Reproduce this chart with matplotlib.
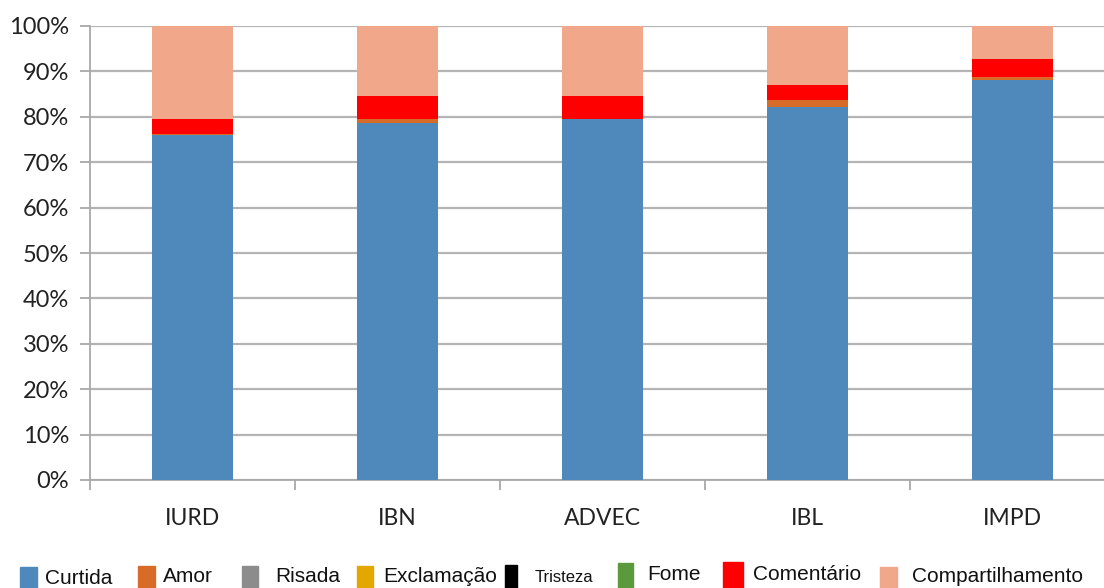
#!/usr/bin/env python3

import matplotlib.pyplot as plt
from matplotlib.patches import Rectangle
from matplotlib.ticker import PercentFormatter
import numpy as np

# Share of each interaction type per church page (percent of total)
churches = ['IURD', 'IBN', 'ADVEC', 'IBL', 'IMPD']
curtida = [76.0, 78.6, 79.5, 82.1, 88.0]
amor = [0.3, 1.0, 0.1, 1.5, 0.7]
risada = [0.0, 0.0, 0.0, 0.0, 0.0]
exclamacao = [0.0, 0.0, 0.0, 0.0, 0.0]
tristeza = [0.0, 0.0, 0.0, 0.0, 0.0]
fome = [0.0, 0.0, 0.0, 0.0, 0.0]
comentario = [3.3, 5.0, 5.0, 3.3, 4.0]
compartilhamento = [20.4, 15.4, 15.4, 13.1, 7.3]

series_names = ['Curtida', 'Amor', 'Risada', 'Exclamação', 'Tristeza',
                'Fome', 'Comentário', 'Compartilhamento']
series_values = [curtida, amor, risada, exclamacao, tristeza, fome,
                 comentario, compartilhamento]
colors = ['#4f89bc', '#d86b28', '#8c8c8c', '#e3a800', '#000000',
          '#5b9a3c', '#ff0000', '#f0a78a']

W, H = 1104, 588
fig = plt.figure(figsize=(W / 100, H / 100), dpi=100)
ax = fig.add_axes([90 / W, (H - 480) / H, 1025 / W, 454 / H])

x = np.arange(len(churches))
bottom = np.zeros(len(churches))
for name, vals, col in zip(series_names, series_values, colors):
    vals = np.array(vals)
    ax.bar(x, vals, bottom=bottom, width=0.395, color=col, zorder=3,
           linewidth=0)
    bottom += vals

ax.set_xlim(-0.5, len(churches) - 0.5)
ax.set_ylim(0, 100)
ax.set_yticks(np.arange(0, 101, 10))
ax.yaxis.set_major_formatter(PercentFormatter(decimals=0))
ax.grid(axis='y', color='#b4b4b4', linewidth=1.6, zorder=0)

ax.set_xticks(x)
ax.set_xticklabels(churches, fontfamily='Lato', fontsize=16.5, color='#222222')
ax.set_xticks(np.arange(len(churches) + 1) - 0.5, minor=True)
ax.tick_params(axis='x', which='major', length=0, pad=20)
ax.tick_params(axis='x', which='minor', length=7, width=1.3, color='#a8a8a8')
ax.tick_params(axis='y', length=7, width=1.3, color='#a8a8a8', pad=8,
               labelsize=17, labelcolor='#222222')
for lbl in ax.get_yticklabels():
    lbl.set_fontfamily('Lato')

for side in ['top', 'right']:
    ax.spines[side].set_visible(False)
for side in ['left', 'bottom']:
    ax.spines[side].set_color('#a8a8a8')
    ax.spines[side].set_linewidth(1.3)

# Legend along the bottom, laid out item by item
handle_x = [20, 138, 242, 357, 505, 618, 723, 880]
handle_w = [17, 17, 16, 16, 12, 15, 20, 17]
handle_top = [567, 566, 566, 566, 565, 563, 562, 567]
text_x = [45, 163, 275, 383, 535, 647, 753, 912]
text_y = [578, 576, 577, 577, 578, 574, 575, 576]
text_size = [15, 15, 15, 15, 12, 15, 15, 15]
for name, col, hx, hw, ht, tx, ty, fs in zip(series_names, colors, handle_x,
                                             handle_w, handle_top, text_x,
                                             text_y, text_size):
    fig.patches.append(Rectangle((hx / W, 0), hw / W, (H - ht) / H,
                                 transform=fig.transFigure, color=col,
                                 figure=fig))
    fig.text(tx / W, (H - ty) / H, name, fontfamily='Liberation Sans',
             fontsize=fs, color='#111111', va='center', ha='left')

fig.savefig('out.png', dpi=100)
plt.close(fig)
